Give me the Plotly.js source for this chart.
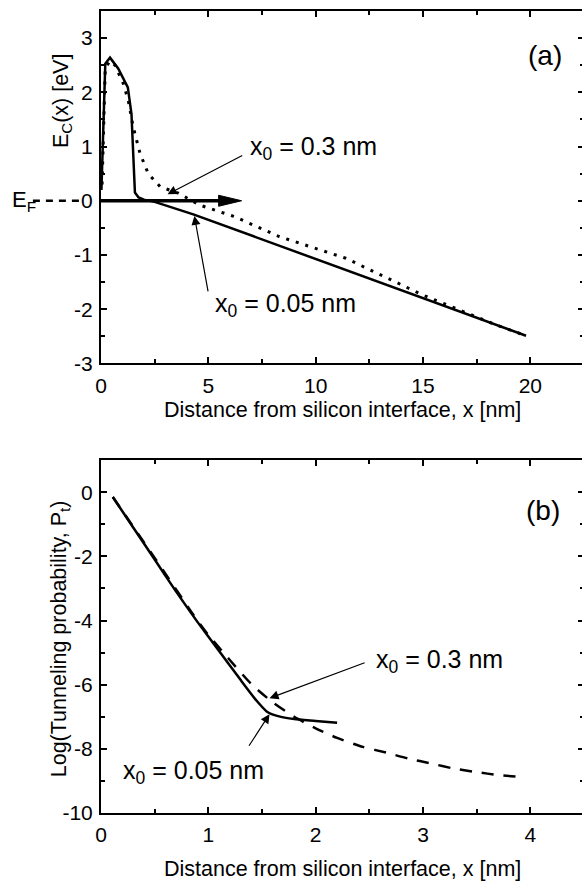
<!DOCTYPE html>
<html>
<head>
<meta charset="utf-8">
<script src="https://cdn.plot.ly/plotly-3.0.1.min.js"></script>
<style>
html,body{margin:0;padding:0;overflow:hidden;background:#fff;}
#chart{width:586px;height:882px;}
</style>
</head>
<body>
<div id="chart"></div>
<script>
// ---- Panel (a): conduction band edge ----
const aSolidX = [0.02, 0.2, 0.42, 0.8, 1.25, 1.42, 1.58, 1.75, 2.0, 2.5, 4.3, 9.3, 15.0, 19.8];
const aSolidY = [0.2, 2.53, 2.64, 2.44, 2.09, 1.6, 0.15, 0.06, 0.02, -0.02, -0.25, -0.97, -1.8, -2.49];
const aDotX = [0.05, 0.2, 0.42, 0.65, 1.04, 1.27, 1.5, 1.82, 2.2, 2.75, 3.6, 4.6, 6.2, 8.3, 11.4, 15.0, 18.4, 19.8];
const aDotY = [0.3, 2.45, 2.58, 2.5, 2.16, 1.85, 1.36, 0.87, 0.5, 0.26, 0.14, -0.08, -0.29, -0.66, -1.06, -1.74, -2.29, -2.49];
// ---- Panel (b): tunneling probability ----
const bSolidX = [0.11, 0.3, 0.5, 0.7, 0.9, 1.1, 1.3, 1.45, 1.55, 1.65, 1.8, 2.0, 2.2];
const bSolidY = [-0.15, -1.1, -2.1, -3.1, -4.05, -4.95, -5.85, -6.5, -6.85, -6.98, -7.07, -7.13, -7.19];
const bDashX = [0.11, 0.5, 0.86, 1.0, 1.2, 1.4, 1.6, 1.8, 2.0, 2.2, 2.44, 2.66, 2.86, 3.08, 3.28, 3.49, 3.71, 3.95];
const bDashY = [-0.15, -2.05, -3.82, -4.45, -5.23, -5.98, -6.55, -7.0, -7.36, -7.66, -7.94, -8.12, -8.3, -8.46, -8.61, -8.72, -8.82, -8.88];
// ---- ticks ----
const aXTicks = [0, 5, 10, 15, 20];
const aXTickText = ['0', '5', '10', '15', '20'];
const aYTicks = [-3, -2, -1, 0, 1, 2, 3];
const aYTickText = ['-3', '-2', '-1', '0', '1', '2', '3'];
const bXTicks = [0, 1, 2, 3, 4];
const bXTickText = ['0', '1', '2', '3', '4'];
const bYTicks = [-10, -8, -6, -4, -2, 0];
const bYTickText = ['-10', '-8', '-6', '-4', '-2', '0'];
// ---- annotation anchors (data coords) ----
const efArrowEnd = 6.55;
const aArrow03 = {x: 3.1, y: 0.12, ax: 6.65, ay: 0.85};
const aArrow005 = {x: 4.35, y: -0.28, ax: 5.0, ay: -1.7};
const aLabel03 = {x: 9.92, y: 0.97};
const aLabel005 = {x: 8.6, y: -1.92};
const bArrow03 = {x: 1.57, y: -6.42, ax: 2.47, ay: -5.3};
const bArrow005 = {x: 1.57, y: -6.92, ax: 1.37, ay: -7.95};
const bLabel03 = {x: 3.15, y: -5.26};
const bLabel005 = {x: 0.86, y: -8.73};

const FONT = 'Liberation Sans, Arial, sans-serif';
const tickFont = {family: FONT, size: 21, color: '#000'};

function axisCommon(extra) {
  return Object.assign({
    showline: true, linecolor: '#000', linewidth: 2, mirror: 'allticks',
    ticks: 'inside', ticklen: 6, tickwidth: 2, tickcolor: '#000',
    showgrid: false, zeroline: false, tickfont: tickFont, tickmode: 'array',
    ticklabelstandoff: 2
  }, extra);
}

const traces = [
  {x: aSolidX, y: aSolidY, xaxis: 'x', yaxis: 'y', mode: 'lines', line: {color: '#000', width: 2.5}, hoverinfo: 'skip'},
  {x: aDotX, y: aDotY, xaxis: 'x', yaxis: 'y', mode: 'lines', line: {color: '#000', width: 3, dash: '3px,7px'}, hoverinfo: 'skip'},
  {x: bSolidX, y: bSolidY, xaxis: 'x2', yaxis: 'y2', mode: 'lines', line: {color: '#000', width: 2.5, shape: 'spline', smoothing: 0.6}, hoverinfo: 'skip'},
  {x: bDashX, y: bDashY, xaxis: 'x2', yaxis: 'y2', mode: 'lines', line: {color: '#000', width: 2.5, dash: '12px,10px', shape: 'spline', smoothing: 0.6}, hoverinfo: 'skip'}
];

const labFont = {family: FONT, size: 25, color: '#000'};
const titleFont = {family: FONT, size: 21.5, color: '#000'};
function thinArrow(ref, a) {
  return {xref: 'x' + ref, yref: 'y' + ref, x: a.x, y: a.y, axref: 'x' + ref, ayref: 'y' + ref, ax: a.ax, ay: a.ay,
    text: '', showarrow: true, arrowhead: 2, arrowsize: 1.5, arrowwidth: 1.2, arrowcolor: '#000'};
}
function txt(xref, yref, x, y, text, font, extra) {
  return Object.assign({xref: xref, yref: yref, x: x, y: y, text: text, showarrow: false, font: font,
    xanchor: 'center', yanchor: 'middle'}, extra || {});
}
const annotations = [
  txt('paper', 'y', -0.1884, 0, 'E<sub>F</sub>', {family: FONT, size: 22, color: '#000'}, {xanchor: 'left'}),
  thinArrow('', aArrow03),
  thinArrow('', aArrow005),
  txt('x', 'y', aLabel03.x, aLabel03.y, 'x<sub>0</sub> = 0.3 nm', labFont),
  txt('x', 'y', aLabel005.x, aLabel005.y, 'x<sub>0</sub> = 0.05 nm', labFont),
  thinArrow('2', bArrow03),
  thinArrow('2', bArrow005),
  txt('x2', 'y2', bLabel03.x, bLabel03.y, 'x<sub>0</sub> = 0.3 nm', labFont),
  txt('x2', 'y2', bLabel005.x, bLabel005.y, 'x<sub>0</sub> = 0.05 nm', labFont),
  txt('paper', 'paper', 0.919, 0.9451, '(a)', {family: FONT, size: 28, color: '#000'}),
  txt('paper', 'paper', 0.915, 0.3776, '(b)', {family: FONT, size: 28, color: '#000'}),
  txt('paper', 'paper', 0.5, 0.5023, 'Distance from silicon interface, x [nm]', titleFont),
  txt('paper', 'paper', 0.5, -0.0700, 'Distance from silicon interface, x [nm]', titleFont),
  txt('paper', 'paper', -0.0807, 0.8877, 'E<sub>C</sub>(x) [eV]', titleFont, {textangle: -90}),
  txt('paper', 'paper', -0.085, 0.2178, 'Log(Tunneling probability, P<sub>t</sub>)', titleFont, {textangle: -90})
];

const shapes = [
  // E_F dashed marker left of the axis
  {type: 'line', xref: 'paper', yref: 'y', x0: -0.141, x1: -0.038, y0: 0, y1: 0, line: {color: '#000', width: 2.5, dash: '7px,6px'}},
  // thick Fermi-level arrow shaft
  {type: 'line', xref: 'x', yref: 'y', x0: 0, x1: efArrowEnd - 0.8, y0: 0, y1: 0, line: {color: '#000', width: 3.5}},
  // slender arrowhead
  {type: 'path', xref: 'x', yref: 'y', xsizemode: 'pixel', ysizemode: 'pixel', xanchor: efArrowEnd, yanchor: 0,
   path: 'M-23,-5.5 L0,0 L-23,5.5 Z', fillcolor: '#000', line: {color: '#000', width: 1}}
];

const layout = {
  width: 586, height: 882,
  margin: {l: 101, r: 2, t: 11, b: 69.3, pad: 0},
  paper_bgcolor: '#fff', plot_bgcolor: '#fff',
  showlegend: false,
  font: {family: FONT, color: '#000'},
  xaxis: axisCommon({domain: [0, 1], range: [0, 22.5], anchor: 'y', tickvals: aXTicks, ticktext: aXTickText,
    minor: {tickvals: [2.5, 7.5, 12.5, 17.5, 22.5], ticks: 'inside', ticklen: 4, tickwidth: 2, tickcolor: '#000'}}),
  yaxis: axisCommon({domain: [0.5606, 1], range: [-3, 3.5], anchor: 'x', tickvals: aYTicks, ticktext: aYTickText,
    minor: {tickvals: [-2.5, -1.5, -0.5, 0.5, 1.5, 2.5], ticks: 'inside', ticklen: 4, tickwidth: 2, tickcolor: '#000'}}),
  xaxis2: axisCommon({domain: [0, 1], range: [0, 4.5], anchor: 'y2', tickvals: bXTicks, ticktext: bXTickText,
    minor: {tickvals: [0.5, 1.5, 2.5, 3.5, 4.5], ticks: 'inside', ticklen: 4, tickwidth: 2, tickcolor: '#000'}}),
  yaxis2: axisCommon({domain: [0, 0.44], range: [-10, 1], anchor: 'x2', tickvals: bYTicks, ticktext: bYTickText,
    minor: {tickvals: [-9, -7, -5, -3, -1], ticks: 'inside', ticklen: 4, tickwidth: 2, tickcolor: '#000'}}),
  annotations: annotations,
  shapes: shapes
};

Plotly.newPlot('chart', traces, layout, {displayModeBar: false, staticPlot: true});
</script>
</body>
</html>
